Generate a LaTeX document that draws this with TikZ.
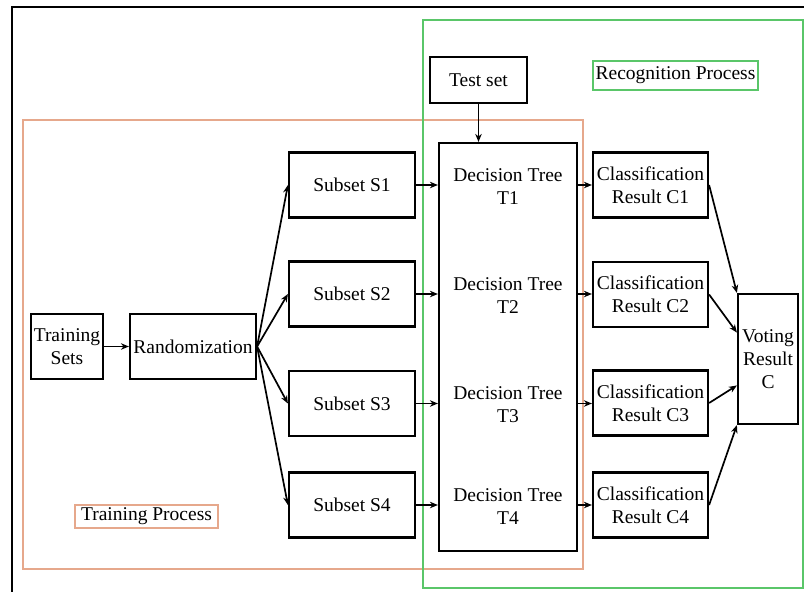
\documentclass[tikz,border=0pt]{standalone}
\usepackage{fontspec}
\setmainfont{Liberation Serif}
\usetikzlibrary{arrows.meta,calc}
\definecolor{trainorange}{RGB}{230,168,140}
\definecolor{recoggreen}{RGB}{90,198,105}
\begin{document}
\begin{tikzpicture}[x=1pt,y=-1pt,
  font=\fontsize{19.5pt}{23pt}\selectfont,
  box/.style={draw=black,line width=2.2pt,fill=white,inner sep=0pt,align=center},
  lbl/.style={inner sep=0pt,align=center},
  tag/.style={line width=1.8pt,fill=white,inner sep=0pt,align=center},
  conn/.style={line width=1.7pt,-{Stealth[length=8pt,width=6.5pt]}},
  frame/.style={line width=2pt}]
\useasboundingbox (0,0) rectangle (804,592);

% outer border (left and top edges)
\draw[line width=2.4pt] (12,592) -- (12,7) -- (804,7);

% process regions
\draw[frame,draw=trainorange] (23,120) rectangle (583,569);
\draw[frame,draw=recoggreen] (423,20) rectangle (803,588);

% region tags
\node[tag,draw=recoggreen,minimum width=165pt,minimum height=29pt] (rtag) at (675.5,75.5) {Recognition Process};
\node[tag,draw=trainorange,minimum width=143pt,minimum height=23pt] (ttag) at (146.5,516.5) {Training Process};

% training side
\node[box,minimum width=72pt,minimum height=65pt] (ts) at (67,346.5) {Training\\Sets};
\node[box,minimum width=126pt,minimum height=65pt] (rand) at (193,346.5) {Randomization};
\node[box,minimum width=126pt,minimum height=65pt] (s1) at (352,185) {Subset S1};
\node[box,minimum width=126pt,minimum height=65pt] (s2) at (352,294) {Subset S2};
\node[box,minimum width=126pt,minimum height=65pt] (s3) at (352,403.5) {Subset S3};
\node[box,minimum width=126pt,minimum height=65pt] (s4) at (352,505) {Subset S4};

% decision trees
\node[box,minimum width=97pt,minimum height=46pt] (test) at (478.5,80) {Test set};
\node[box,minimum width=138pt,minimum height=408pt] (dt) at (508,347) {};
\node[lbl] (t1) at (508,187) {Decision Tree\\T1};
\node[lbl] (t2) at (508,296) {Decision Tree\\T2};
\node[lbl] (t3) at (508,405) {Decision Tree\\T3};
\node[lbl] (t4) at (508,507) {Decision Tree\\T4};

% classification results and vote
\node[box,minimum width=115pt,minimum height=65pt] (c1) at (650.5,185) {Classification\\Result C1};
\node[box,minimum width=115pt,minimum height=65pt] (c2) at (650.5,294.5) {Classification\\Result C2};
\node[box,minimum width=115pt,minimum height=65pt] (c3) at (650.5,403) {Classification\\Result C3};
\node[box,minimum width=115pt,minimum height=65pt] (c4) at (650.5,505) {Classification\\Result C4};
\node[box,minimum width=60pt,minimum height=130pt] (vote) at (768,359) {Voting\\Result\\C};

\coordinate (v1) at (vote.north west);
\coordinate (v2) at ($(vote.north west)!0.3!(vote.south west)$);
\coordinate (v3) at ($(vote.north west)!0.7!(vote.south west)$);
\coordinate (v4) at (vote.south west);

% connectors
\draw[conn] (ts) -- (rand);
\foreach \s in {s1,s2,s3,s4}{
  \draw[conn] (rand.east) -- (\s.west);
  \draw[conn] (\s.east) -- (\s.east -| dt.west);
}
\foreach \s/\c in {s1/c1,s2/c2,s3/c3,s4/c4}{
  \draw[conn] (\s.east -| dt.east) -- (\s.east -| \c.west);
}
\draw[conn] (test.south) -- (test.south |- dt.north);
\draw[conn] (c1.east) -- (v1);
\draw[conn] (c2.east) -- (v2);
\draw[conn] (c3.east) -- (v3);
\draw[conn] (c4.east) -- (v4);
\end{tikzpicture}
\end{document}
